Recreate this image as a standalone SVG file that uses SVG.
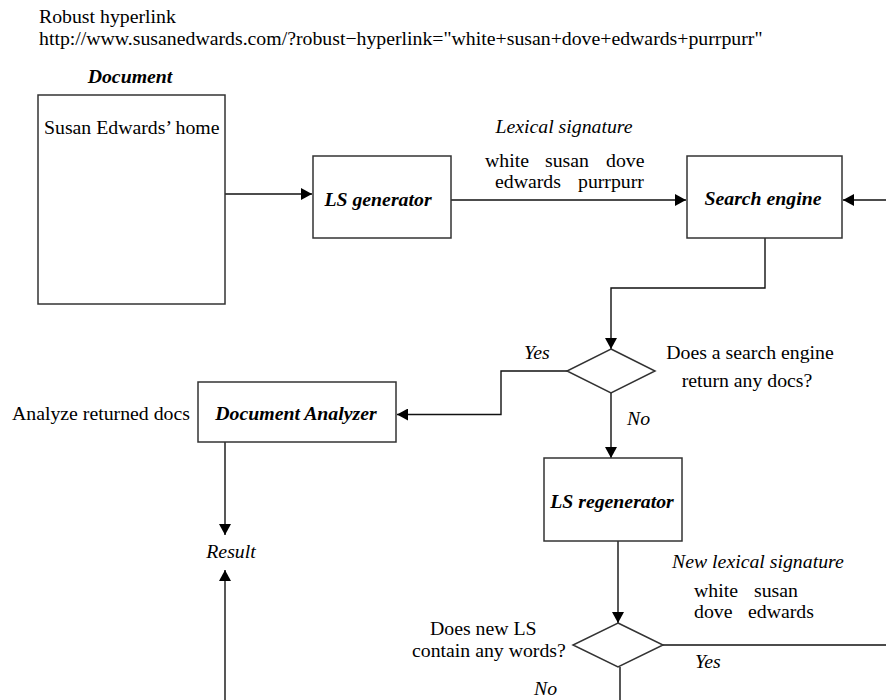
<svg xmlns="http://www.w3.org/2000/svg" width="886" height="700" viewBox="0 0 886 700">
<defs>
<marker id="ah" viewBox="0 0 11 12" refX="11" refY="6" markerWidth="11" markerHeight="12" markerUnits="userSpaceOnUse" orient="auto">
<path d="M0,0 L11,6 L0,12 Z" fill="#000"/>
</marker>
</defs>
<style>
text{font-family:"Liberation Serif","Times New Roman",serif;font-size:19.8px;fill:#000}
.it{font-style:italic}
.bi{font-style:italic;font-weight:bold}
.box{fill:#fff;stroke:#333;stroke-width:1.5}
.ln{fill:none;stroke:#111;stroke-width:1.4}
.arr{marker-end:url(#ah)}
</style>
<rect width="886" height="700" fill="#fff"/>
<text x="39" y="23">Robust hyperlink</text>
<text x="39" y="45">http://www.susanedwards.com/?robust−hyperlink="white+susan+dove+edwards+purrpurr"</text>

<g id="connectors">
<line class="ln arr" x1="225" y1="194" x2="312" y2="194"/>
<line class="ln arr" x1="451" y1="200" x2="686" y2="200"/>
<line class="ln arr" x1="886" y1="200" x2="843" y2="200"/>
<polyline class="ln arr" points="765,238 765,288 611,288 611,349"/>
<polyline class="ln arr" points="567,371 501,371 501,414.5 397,414.5"/>
<line class="ln arr" x1="611" y1="393" x2="611" y2="458"/>
<line class="ln arr" x1="618" y1="541" x2="618" y2="623"/>
<line class="ln" x1="663" y1="645" x2="886" y2="645"/>
<line class="ln" x1="620" y1="667" x2="620" y2="700"/>
<line class="ln arr" x1="225" y1="442" x2="225" y2="535"/>
<line class="ln arr" x1="225" y1="700" x2="225" y2="570"/>
</g>

<g id="document">
<text class="bi" x="130" y="83" text-anchor="middle">Document</text>
<rect class="box" x="38" y="95" width="187" height="209"/>
<text x="44" y="134">Susan Edwards’ home</text>
</g>

<g id="ls-generator">
<rect class="box" x="313" y="156" width="138" height="82"/>
<text class="bi" x="378" y="206" text-anchor="middle">LS generator</text>
</g>

<g id="lexical-signature">
<text class="it" x="564" y="133" text-anchor="middle">Lexical signature</text>
<text x="485" y="167">white</text>
<text x="545" y="167">susan</text>
<text x="606" y="167">dove</text>
<text x="495" y="188">edwards</text>
<text x="578" y="188">purrpurr</text>
</g>

<g id="search-engine">
<rect class="box" x="687" y="156" width="155" height="82"/>
<text class="bi" x="763" y="205" text-anchor="middle">Search engine</text>
</g>

<g id="decision-docs">
<polygon class="box" points="611,349 655,371 611,393 567,371"/>
<text x="750" y="359" text-anchor="middle">Does a search engine</text>
<text x="747" y="387" text-anchor="middle">return any docs?</text>
<text class="it" x="524" y="359">Yes</text>
<text class="it" x="627" y="425">No</text>
</g>

<g id="document-analyzer">
<rect class="box" x="198" y="382" width="198" height="60"/>
<text class="bi" x="296" y="420" text-anchor="middle">Document Analyzer</text>
<text x="12" y="420">Analyze returned docs</text>
</g>

<g id="result">
<text class="it" x="231" y="558" text-anchor="middle">Result</text>
</g>

<g id="ls-regenerator">
<rect class="box" x="544" y="458" width="138" height="83"/>
<text class="bi" x="612" y="508" text-anchor="middle">LS regenerator</text>
</g>

<g id="new-lexical-signature">
<text class="it" x="672" y="568">New lexical signature</text>
<text x="694" y="597">white</text>
<text x="754" y="597">susan</text>
<text x="694" y="618">dove</text>
<text x="748" y="618">edwards</text>
</g>

<g id="decision-words">
<polygon class="box" points="618,623 663,645 618,667 573,645"/>
<text x="430" y="635">Does new LS</text>
<text x="412" y="657">contain any words?</text>
<text class="it" x="695" y="668">Yes</text>
<text class="it" x="534" y="695">No</text>
</g>
</svg>
